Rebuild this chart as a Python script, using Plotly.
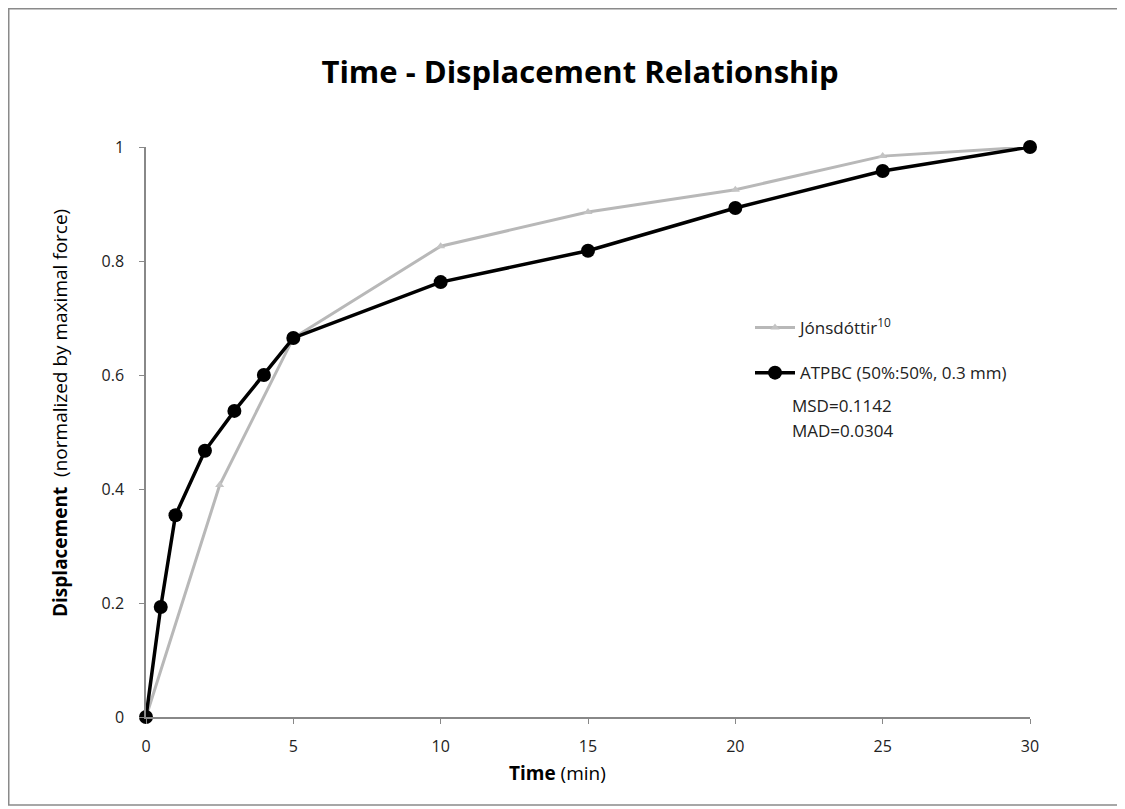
import plotly.graph_objects as go

# Data
t_atpbc = [0, 0.5, 1, 2, 3, 4, 5, 10, 15, 20, 25, 30]
d_atpbc = [0, 0.193, 0.354, 0.467, 0.537, 0.600, 0.665, 0.763, 0.818, 0.893, 0.958, 1.0]
t_jons = [0, 2.5, 5, 10, 15, 20, 25, 30]
d_jons = [0, 0.407, 0.665, 0.826, 0.886, 0.925, 0.984, 1.0]
x_ticks = [0, 5, 10, 15, 20, 25, 30]
y_ticks = [0, 0.2, 0.4, 0.6, 0.8, 1]
y_tick_text = ["0", "0.2", "0.4", "0.6", "0.8", "1"]

FONT = "Open Sans, Liberation Sans, sans-serif"
W, H = 1117, 801
L, R, T, B = 138, 95, 139, 92
PW, PH = W - L - R, H - T - B


def px(xf):
    return (xf - L) / PW


def py(yf):
    return (H - B - yf) / PH


fig = go.Figure()
fig.add_trace(go.Scatter(
    x=t_jons, y=d_jons, mode="lines+markers",
    name="Jónsdóttir<sup>10</sup>",
    line=dict(color="#b8b8b8", width=3),
    marker=dict(symbol="triangle-up", size=8, color="#c4c4c4"),
    cliponaxis=False, legendgroup="a",
))
fig.add_trace(go.Scatter(
    x=t_atpbc, y=d_atpbc, mode="lines+markers",
    name="ATPBC (50%:50%, 0.3 mm)",
    line=dict(color="black", width=3.5),
    marker=dict(symbol="circle", size=14, color="black"),
    cliponaxis=False, legendgroup="b",
))

fig.update_layout(
    width=W, height=H,
    margin=dict(l=L, r=R, t=T, b=B),
    paper_bgcolor="white", plot_bgcolor="white",
    font=dict(family=FONT, color="black"),
    title=dict(text="<b>Time - Displacement Relationship</b>",
               x=px(572), xanchor="center", y=1 - 64 / H, yanchor="middle",
               xref="paper",
               font=dict(size=31, family=FONT, color="black")),
    showlegend=True,
    legend=dict(x=px(742), y=py(302), xanchor="left", yanchor="top",
                bgcolor="rgba(0,0,0,0)", font=dict(size=17, color="#222"),
                tracegroupgap=20, traceorder="grouped", itemwidth=40),
    xaxis=dict(range=[0, 30], tickvals=x_ticks, showgrid=False, zeroline=False,
               showline=True, linecolor="#888", linewidth=1.5,
               ticks="outside", ticklen=5, tickcolor="#888",
               ticklabelstandoff=9,
               tickfont=dict(size=16, color="#222")),
    yaxis=dict(range=[0, 1], tickvals=y_ticks, ticktext=y_tick_text, showgrid=False, zeroline=False,
               showline=True, linecolor="#888", linewidth=1.5,
               ticks="outside", ticklen=5, tickcolor="#888",
               ticklabelstandoff=12,
               tickfont=dict(size=16, color="#222")),
)

# axis titles as annotations (positioned as in the reference)
fig.add_annotation(xref="paper", yref="paper", x=px(549), y=py(765), xanchor="center", yanchor="middle",
                   text="<b>Time</b> (min)", showarrow=False, font=dict(size=19, color="black"))
fig.add_annotation(xref="paper", yref="paper", x=px(52), y=py(405), xanchor="center", yanchor="middle",
                   textangle=-90,
                   text="<b>Displacement</b>  (normalized by maximal force)", showarrow=False,
                   font=dict(size=19, color="black"))

fig.add_annotation(xref="paper", yref="paper", x=px(782), y=py(397), xanchor="left", yanchor="middle",
                   text="MSD=0.1142", showarrow=False, font=dict(size=17, color="#222"))
fig.add_annotation(xref="paper", yref="paper", x=px(782), y=py(422), xanchor="left", yanchor="middle",
                   text="MAD=0.0304", showarrow=False, font=dict(size=17, color="#222"))

fig.add_shape(type="rect", xref="paper", yref="paper",
              x0=px(0.75), x1=px(1113),
              y0=py(797), y1=py(0.75),
              line=dict(color="#8a8a8a", width=1.5), fillcolor="rgba(0,0,0,0)", layer="below")

fig.write_html("out.html")
